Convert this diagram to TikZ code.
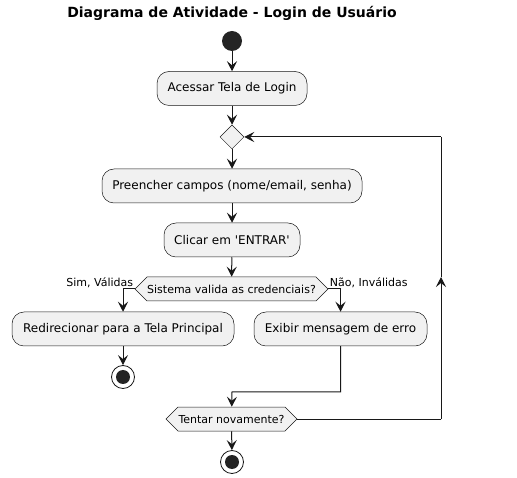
\documentclass[tikz,border=0pt]{standalone}
\usepackage{fontspec}
\setmainfont{DejaVu Sans}
\usepackage{tikz}
\usetikzlibrary{shapes,shapes.geometric,shapes.symbols,arrows.meta,positioning,calc}
\definecolor{actfill}{HTML}{F1F1F1}
\definecolor{ink}{HTML}{181818}

\begin{document}
\begin{tikzpicture}[x=1pt,y=-1pt,
    action/.style={draw=ink,line width=0.5pt,fill=actfill,rounded corners=12pt,minimum height=34pt,inner xsep=10pt,font=\fontsize{12}{14}\selectfont},
    merge/.style={draw=ink,line width=0.5pt,fill=actfill,diamond,minimum size=24pt,inner sep=0pt},
    cond/.style={draw=ink,line width=0.5pt,fill=actfill,signal,signal to=east and west,signal pointer angle=90,minimum height=24pt,inner sep=0pt,font=\fontsize{11}{13}\selectfont},
    startnode/.style={circle,fill=ink!95,minimum size=20pt,inner sep=0pt},
    stopnode/.style={circle,draw=ink,line width=0.8pt,fill=white,minimum size=23pt,inner sep=0pt,
        path picture={\fill[ink!95] (path picture bounding box.center) circle (7pt);}},
    flow/.style={draw=ink,line width=1pt,-{Stealth[length=10pt,width=10pt,inset=4pt]}},
    lbl/.style={font=\fontsize{11}{13}\selectfont,inner sep=1pt}]
    \useasboundingbox (0,0) rectangle (517,478);

    \node[font=\bfseries\fontsize{14}{16}\selectfont] (title) at (232,13) {Diagrama de Atividade - Login de Usuário};

    % fluxo principal
    \node[startnode] (start) at (232,41) {};
    \node[action,minimum width=150pt] (login) at (232,88.5) {Acessar Tela de Login};
    \node[merge] (loopin) at (232,137) {};
    \node[action,minimum width=260pt] (fill) at (232,186) {Preencher campos (nome/email, senha)};
    \node[action,minimum width=136pt] (click) at (232,240) {Clicar em \textquotesingle ENTRAR\textquotesingle};
    \node[cond,minimum width=193pt] (check) at (231.5,289) {Sistema valida as credenciais?};
    \node[action,minimum width=222pt] (ok) at (123,329) {Redirecionar para a Tela Principal};
    \node[action,minimum width=173pt] (err) at (340.5,329) {Exibir mensagem de erro};
    \node[stopnode] (stopok) at (123,377) {};
    \node[cond,minimum width=131pt] (retry) at (231.5,419) {Tentar novamente?};
    \node[stopnode] (stopend) at (232,462) {};

    \coordinate (join) at (232,392);
    \coordinate (loopdown) at (441,419);
    \coordinate (loopup) at (441,137);
    \coordinate (loopmid) at (441,277);

    \draw[flow] (start) -- (login);
    \draw[flow] (login) -- (loopin);
    \draw[flow] (loopin) -- (fill);
    \draw[flow] (fill) -- (click);
    \draw[flow] (click) -- (check);
    \draw[flow] (check.west) -| (ok) node[lbl,pos=0,anchor=south east] {Sim, Válidas};
    \draw[flow] (check.east) -| (err) node[lbl,pos=0,anchor=south west] {Não, Inválidas};
    \draw[flow] (ok) -- (stopok);
    \draw[flow] (err) |- (join) -- (retry);
    \draw[flow] (retry) -- (stopend);

    % volta para o inicio do laco
    \draw[ink,line width=1pt] (retry.east) -- (loopdown);
    \draw[flow] (loopdown) -- (loopmid);
    \draw[ink,line width=1pt] (loopmid) -- (loopup);
    \draw[flow] (loopup) -- (loopin);
\end{tikzpicture}
\end{document}
